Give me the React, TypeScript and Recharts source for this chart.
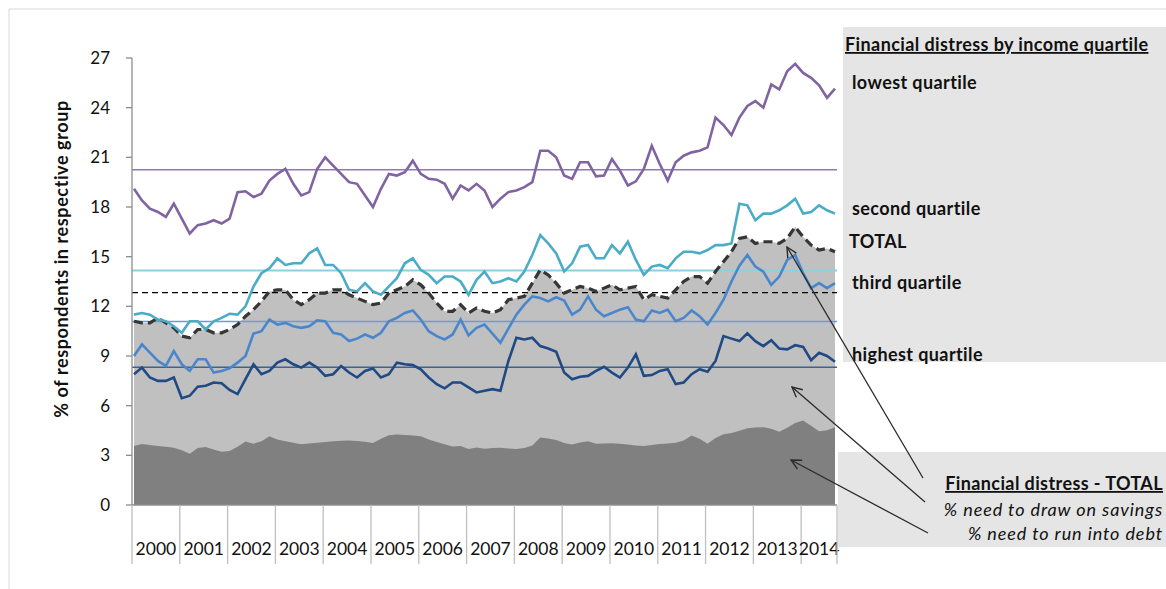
import React from 'react'
import { ComposedChart, Area, Line, XAxis, YAxis, ReferenceLine } from 'recharts'

// one reading every second month, Jan 2000 .. Sep 2014
const STEP = 2
const MONTHS = 177
const yearLabels = ['2000', '2001', '2002', '2003', '2004', '2005', '2006', '2007', '2008', '2009', '2010', '2011', '2012', '2013', '2014']
const yearBounds = [0, 12, 24, 36, 48, 60, 72, 84, 96, 108, 120, 132, 144, 156, 168, 177]
const yTicks = [0, 3, 6, 9, 12, 15, 18, 21, 24, 27]

const lowest = [
  19.1, 18.4, 17.9, 17.7, 17.4, 18.2, 17.3, 16.4, 16.9, 17.0,
  17.2, 17.0, 17.3, 18.9, 18.95, 18.6, 18.8, 19.6, 20.0, 20.3,
  19.4, 18.7, 18.9, 20.3, 21.0, 20.5, 20.0, 19.5, 19.4, 18.7,
  18.0, 19.1, 20.0, 19.9, 20.1, 20.8, 20.0, 19.7, 19.65, 19.4,
  18.5, 19.3, 19.0, 19.4, 19.0, 18.0, 18.5, 18.9, 19.0, 19.2,
  19.5, 21.4, 21.4, 21.0, 19.9, 19.7, 20.7, 20.7, 19.85, 19.9,
  20.9, 20.2, 19.3, 19.55, 20.3, 21.7, 20.6, 19.6, 20.7, 21.1,
  21.3, 21.4, 21.6, 23.4, 22.95, 22.35, 23.4, 24.1, 24.4, 24.0,
  25.4, 25.1, 26.2, 26.65, 26.1, 25.8, 25.35, 24.6, 25.15,
]
const second = [
  11.5, 11.6, 11.5, 11.2, 11.1, 10.8, 10.4, 11.1, 11.1, 10.6,
  11.1, 11.3, 11.55, 11.5, 12.0, 13.2, 14.0, 14.3, 14.9, 14.5,
  14.6, 14.6, 15.2, 15.5, 14.5, 14.5, 14.0, 13.0, 12.9, 13.4,
  12.9, 12.7, 13.2, 13.7, 14.6, 14.9, 14.2, 13.9, 13.4, 13.8,
  13.8, 13.5, 12.7, 13.6, 14.1, 13.4, 13.5, 13.7, 13.5, 14.1,
  15.1, 16.3, 15.8, 15.2, 14.1, 14.6, 15.6, 15.7, 14.9, 14.9,
  15.7, 15.2, 15.9, 14.8, 13.9, 14.4, 14.5, 14.3, 14.9, 15.3,
  15.3, 15.2, 15.4, 15.7, 15.7, 15.8, 18.2, 18.1, 17.2, 17.6,
  17.6, 17.8, 18.1, 18.5, 17.6, 17.7, 18.1, 17.8, 17.6,
]
const total = [
  11.1, 11.0, 11.0, 11.3, 11.0, 10.7, 10.2, 10.1, 10.6, 10.6,
  10.4, 10.4, 10.6, 10.9, 11.4, 11.8, 12.3, 12.9, 13.0, 13.0,
  12.4, 12.1, 12.4, 12.8, 12.8, 13.0, 13.0, 12.7, 12.5, 12.3,
  12.1, 12.2, 12.8, 13.0, 13.2, 13.6, 13.3, 12.8, 12.2, 11.7,
  11.7, 12.1, 11.6, 11.9, 11.7, 11.6, 11.8, 12.4, 12.5, 12.6,
  13.4, 14.2, 13.9, 13.4, 12.8, 13.0, 13.2, 13.1, 12.9, 13.1,
  13.3, 13.0, 13.1, 13.2, 12.4, 12.7, 12.6, 12.5, 13.0, 13.5,
  13.8, 13.8, 13.4, 14.1, 14.7, 15.3, 16.1, 16.2, 15.8, 15.9,
  15.9, 15.8, 16.1, 16.8, 16.2, 15.7, 15.4, 15.5, 15.3,
]
const third = [
  9.0, 9.7, 9.2, 8.7, 8.4, 9.3, 8.5, 8.1, 8.8, 8.8,
  8.0, 8.1, 8.25, 8.6, 9.0, 10.35, 10.5, 11.2, 10.9, 11.0,
  10.8, 10.7, 10.8, 11.15, 11.1, 10.4, 10.3, 9.9, 10.05, 10.3,
  10.1, 10.4, 11.1, 11.3, 11.6, 11.75, 11.2, 10.5, 10.2, 10.0,
  10.3, 11.2, 10.25, 10.7, 10.9, 10.35, 9.8, 10.65, 11.5, 12.1,
  12.6, 12.5, 12.3, 12.55, 12.35, 11.5, 11.8, 12.6, 11.8, 11.4,
  11.6, 11.8, 11.95, 11.2, 11.1, 11.75, 11.6, 11.8, 11.1, 11.3,
  11.75, 11.4, 10.9, 11.6, 12.4, 13.5, 14.45, 15.1, 14.4, 14.1,
  13.3, 13.8, 14.8, 15.1, 14.0, 13.1, 13.4, 13.1, 13.4,
]
const highest = [
  7.9, 8.3, 7.7, 7.5, 7.5, 7.7, 6.45, 6.6, 7.15, 7.2,
  7.4, 7.35, 6.95, 6.7, 7.6, 8.5, 7.9, 8.1, 8.6, 8.8,
  8.5, 8.3, 8.6, 8.3, 7.8, 7.9, 8.4, 8.0, 7.7, 8.1,
  8.25, 7.7, 7.9, 8.6, 8.5, 8.45, 8.2, 7.7, 7.3, 7.05,
  7.4, 7.4, 7.1, 6.8, 6.9, 7.0, 6.9, 8.7, 10.1, 10.0,
  10.1, 9.6, 9.45, 9.25, 8.0, 7.6, 7.75, 7.8, 8.1, 8.35,
  8.0, 7.7, 8.3, 9.1, 7.8, 7.85, 8.1, 8.2, 7.3, 7.4,
  7.9, 8.2, 8.05, 8.7, 10.2, 10.05, 9.9, 10.37, 9.9, 9.6,
  9.95, 9.45, 9.4, 9.65, 9.55, 8.75, 9.2, 9.0, 8.65,
]
// % need to run into debt (dark grey area)
const debt = [
  3.57, 3.69, 3.63, 3.57, 3.52, 3.46, 3.3, 3.1, 3.45, 3.5,
  3.35, 3.22, 3.26, 3.52, 3.83, 3.7, 3.85, 4.15, 3.95, 3.85,
  3.76, 3.67, 3.72, 3.76, 3.8, 3.85, 3.88, 3.89, 3.86, 3.82,
  3.74, 4.0, 4.22, 4.26, 4.23, 4.2, 4.15, 3.96, 3.8, 3.67,
  3.53, 3.56, 3.38, 3.48, 3.4, 3.44, 3.46, 3.42, 3.38, 3.44,
  3.6, 4.07, 4.02, 3.92, 3.75, 3.65, 3.78, 3.85, 3.7, 3.71,
  3.73, 3.7, 3.65, 3.6, 3.56, 3.63, 3.68, 3.72, 3.76, 3.9,
  4.2, 4.0, 3.7, 4.05, 4.28, 4.35, 4.48, 4.63, 4.68, 4.69,
  4.6, 4.42, 4.67, 4.95, 5.1, 4.78, 4.45, 4.52, 4.69,
]
// long-run averages (thin horizontal lines)
const averages = { lowest: 20.25, second: 14.17, total: 12.83, third: 11.08, highest: 8.32 }

const rows = lowest.map((v, i) => ({
  x: i * STEP + 0.5,
  lowest: v,
  second: second[i],
  total: total[i],
  third: third[i],
  highest: highest[i],
  debt: debt[i],
}))

const W = 1166
const H = 589
const MARGIN = { top: 58, right: 329, bottom: 24, left: 72 }
const Y_AXIS_W = 60
const PLOT_W = W - MARGIN.left - Y_AXIS_W - MARGIN.right
const PX_PER_MONTH = PLOT_W / MONTHS
const FONT = "Lato, 'Open Sans', sans-serif"
const AXIS_GREY = '#8c8c8c'

function YearTick(props: any) {
  const { x, y, payload } = props
  const v = payload.value
  const i = yearBounds.indexOf(v)
  const next = yearBounds[i + 1]
  return (
    <g>
      <line x1={x} y1={y} x2={x} y2={y + 59} stroke="#bfbfbf" strokeWidth={1.3} />
      {next !== undefined && (
        <text
          x={x + ((next - v) / 2) * PX_PER_MONTH}
          y={y + 50}
          textAnchor="middle"
          fontSize={17.5}
          fontFamily={FONT}
          fill="#111"
        >
          {yearLabels[i]}
        </text>
      )}
    </g>
  )
}

export default function App() {
  return (
    <div style={{ position: 'absolute', left: 0, top: 0, width: W, height: H, background: '#fff', fontFamily: FONT }}>
      <ComposedChart width={W} height={H} data={rows} margin={MARGIN}>
        <XAxis
          dataKey="x"
          type="number"
          domain={[0, MONTHS]}
          ticks={yearBounds}
          interval={0}
          allowDataOverflow
          height={60}
          tickSize={0}
          tickMargin={0}
          tickLine={false}
          axisLine={{ stroke: AXIS_GREY, strokeWidth: 1.3 }}
          tick={<YearTick />}
        />
        <YAxis
          domain={[0, 27]}
          ticks={yTicks}
          interval={0}
          width={Y_AXIS_W}
          tickSize={6}
          tickMargin={16}
          axisLine={{ stroke: AXIS_GREY, strokeWidth: 1.3 }}
          tickLine={{ stroke: AXIS_GREY, strokeWidth: 1.3 }}
          tick={{ fontSize: 17, fontFamily: FONT, fill: '#111' }}
        />
        <Area dataKey="total" type="linear" fill="#c0c0c0" fillOpacity={1} stroke="none" isAnimationActive={false} />
        <Area dataKey="debt" type="linear" fill="#808080" fillOpacity={1} stroke="none" isAnimationActive={false} />

        <ReferenceLine y={averages.lowest} stroke="#9179b5" strokeWidth={1.5} />
        <ReferenceLine y={averages.second} stroke="#8fd0e0" strokeWidth={2} />
        <ReferenceLine y={averages.total} stroke="#000" strokeWidth={1.3} strokeDasharray="6 4" />
        <ReferenceLine y={averages.third} stroke="#6c9bd5" strokeWidth={1.5} />
        <ReferenceLine y={averages.highest} stroke="#3e6391" strokeWidth={1.5} />

        <Line dataKey="total" type="linear" stroke="#363636" strokeWidth={3.2} strokeDasharray="9 5" dot={false} isAnimationActive={false} />
        <Line dataKey="lowest" type="linear" stroke="#8064a2" strokeWidth={2.6} dot={false} isAnimationActive={false} />
        <Line dataKey="second" type="linear" stroke="#4bacc6" strokeWidth={2.6} dot={false} isAnimationActive={false} />
        <Line dataKey="third" type="linear" stroke="#4a86cc" strokeWidth={2.6} dot={false} isAnimationActive={false} />
        <Line dataKey="highest" type="linear" stroke="#1f4a84" strokeWidth={2.6} dot={false} isAnimationActive={false} />
      </ComposedChart>

      <svg width={W} height={H} style={{ position: 'absolute', left: 0, top: 0, pointerEvents: 'none' }}>
        <defs>
          <marker id="openArrow" viewBox="0 0 12 12" refX="11" refY="6" markerWidth="12" markerHeight="12" markerUnits="userSpaceOnUse" orient="auto">
            <path d="M1,1 L11,6 L1,11" fill="none" stroke="#2b2b2b" strokeWidth={1.4} />
          </marker>
        </defs>
        <line x1={9} y1={9} x2={W} y2={9} stroke="#d9d9d9" />
        <line x1={9} y1={9} x2={9} y2={H} stroke="#d9d9d9" />

        <text
          transform="translate(68,259) rotate(-90)"
          textAnchor="middle"
          fontSize={18}
          fontWeight={700}
          letterSpacing={0.6}
          fontFamily={FONT}
          fill="#111"
        >
          % of respondents in respective group
        </text>

        <rect x={843} y={27} width={W - 843} height={335} fill="#e5e5e5" />
        <g fontFamily={FONT} fontSize={18} fontWeight={700} fill="#111" letterSpacing={0.4}>
          <text x={845} y={51} textDecoration="underline">Financial distress by income quartile</text>
          <text x={852} y={89}>lowest quartile</text>
          <text x={852} y={215}>second quartile</text>
          <text x={849} y={248}>TOTAL</text>
          <text x={852} y={289}>third quartile</text>
          <text x={852} y={361}>highest quartile</text>
        </g>

        <rect x={838} y={452} width={W - 838} height={95} fill="#e5e5e5" />
        <g fontFamily={FONT} fontSize={18} fill="#111" textAnchor="end">
          <text x={1163} y={490} fontWeight={700} letterSpacing={0.4} textDecoration="underline">Financial distress - TOTAL</text>
          <text x={1163} y={516} fontStyle="italic" letterSpacing={0.9}>% need to draw on savings</text>
          <text x={1163} y={540} fontStyle="italic" letterSpacing={0.9}>% need to run into debt</text>
        </g>

        <g stroke="#2b2b2b" strokeWidth={1.3} markerEnd="url(#openArrow)">
          <line x1={923} y1={478} x2={787} y2={247} />
          <line x1={925} y1={502} x2={792} y2={387} />
          <line x1={928} y1={533} x2={791} y2={460} />
        </g>
      </svg>
    </div>
  )
}
